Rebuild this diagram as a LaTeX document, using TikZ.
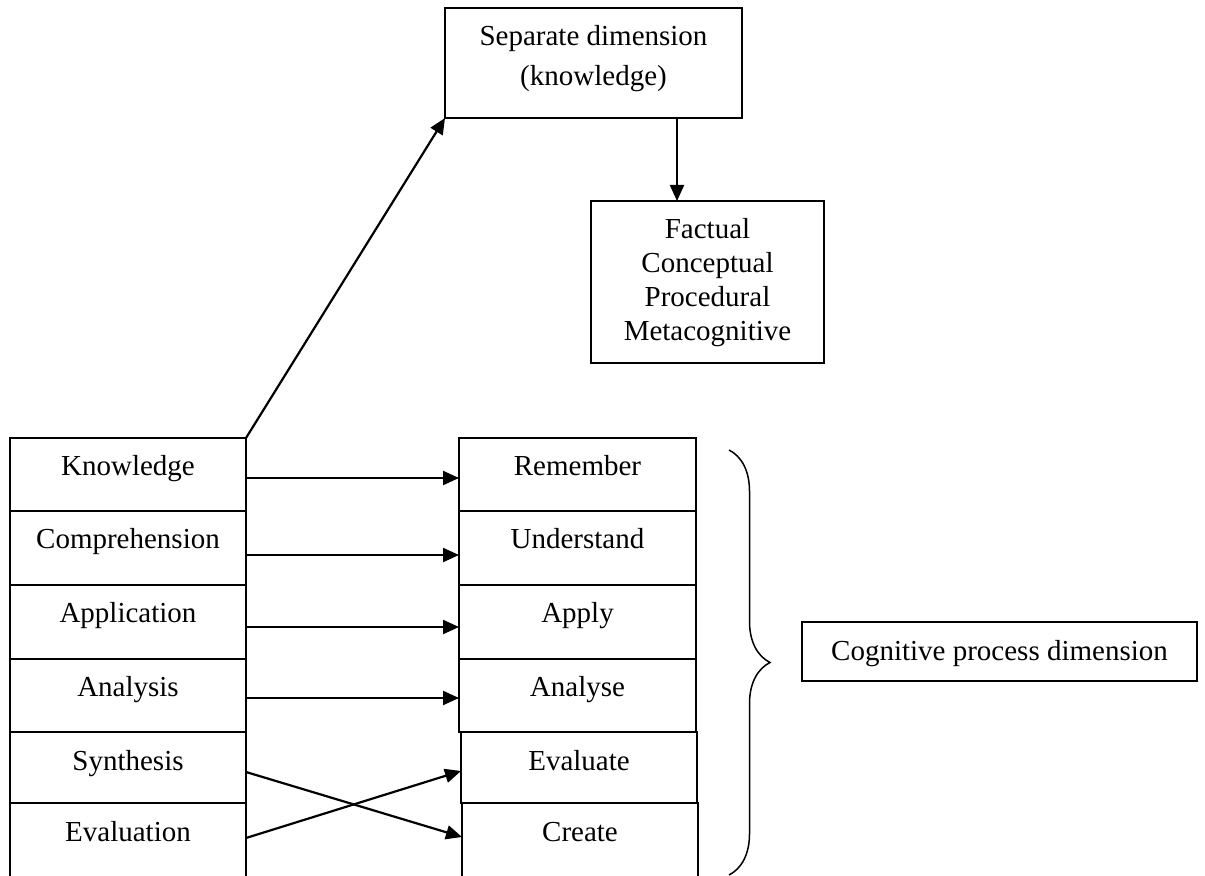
\documentclass[tikz,border=0pt]{standalone}
\usepackage{fontspec}
\setmainfont{Liberation Serif}
\usetikzlibrary{arrows.meta,decorations.pathreplacing,calc}
\begin{document}
\begin{tikzpicture}[x=0.5pt,y=-0.5pt,
  font=\fontsize{14.5}{17}\selectfont,
  every node/.style={inner sep=0pt,outer sep=0pt},
  cell/.style args={#1/#2}{draw,line width=1.1pt,anchor=north west,
    minimum width=#1,text height=19pt,text depth=#2},
  boxx/.style args={#1/#2}{draw,line width=1.1pt,anchor=north west,
    minimum width=#1,minimum height=#2},
  txt/.style={anchor=base},
  arr/.style={line width=1.1pt,-{Triangle[length=8pt,width=7pt]}}
]
\useasboundingbox (0,0) rectangle (1205,876);

% left column
\node[cell=118pt/17.5pt] (k1) at (10,438) {Knowledge};
\node[cell=118pt/18pt]   (k2) at (10,511) {Comprehension};
\node[cell=118pt/18pt]   (k3) at (10,585) {Application};
\node[cell=118pt/17.5pt] (k4) at (10,659) {Analysis};
\node[cell=118pt/16.5pt] (k5) at (10,732) {Synthesis};
\node[cell=118pt/18.5pt] (k6) at (10,803) {Evaluation};

% right column
\node[cell=118.5pt/17.5pt] (r1) at (459,438) {Remember};
\node[cell=118.5pt/18pt]   (r2) at (459,511) {Understand};
\node[cell=118.5pt/18pt]   (r3) at (459,585) {Apply};
\node[cell=118.5pt/17.5pt] (r4) at (459,659) {Analyse};
\node[cell=118pt/16.5pt]   (r5) at (461,732) {Evaluate};
\node[cell=118pt/18.5pt]   (r6) at (462,803) {Create};

% top box
\node[boxx=148.5pt/55pt] (sep) at (445,8) {};
\node[txt] (sep1) at (593.5,46) {Separate dimension};
\node[txt] (sep2) at (593.5,86) {(knowledge)};

% knowledge types box
\node[boxx=116.5pt/81pt] (fac) at (591,201) {};
\node[txt] (fac1) at (707.5,239) {Factual};
\node[txt] (fac2) at (707.5,273) {Conceptual};
\node[txt] (fac3) at (707.5,307) {Procedural};
\node[txt] (fac4) at (707.5,341) {Metacognitive};

% cognitive process box
\node[draw,line width=1.1pt,anchor=north west,minimum width=197.5pt,
  text height=19.5pt,text depth=10pt] (cog) at (802,622) {Cognitive process dimension};

% connectors
\draw[arr] (k1.north east) -- (sep.south west);
\path (sep.south) ++(83.5,0) coordinate (xa);
\draw[arr] (xa) -- (xa |- fac.north);

\draw[arr] ([yshift=-1.75pt]k1.east) -- ([yshift=-1.75pt]r1.west);
\draw[arr] ([yshift=-3.5pt]k2.east) -- ([yshift=-3.5pt]r2.west);
\draw[arr] ([yshift=-2.5pt]k3.east) -- ([yshift=-2.5pt]r3.west);
\draw[arr] ([yshift=-1.25pt]k4.east) -- ([yshift=-1.25pt]r4.west);
\draw[arr] ([yshift=-2.25pt]k5.east) -- ([yshift=1.75pt]r6.west);
\draw[arr] ([yshift=1.25pt]k6.east) -- ([yshift=-1.75pt]r5.west);

% brace
\coordinate (bt) at (729,450);
\coordinate (bb) at (729,875);
\draw[line width=0.75pt,decorate,decoration={brace,amplitude=20.5pt,aspect=0.5}] (bt) -- (bb);
\end{tikzpicture}
\end{document}
